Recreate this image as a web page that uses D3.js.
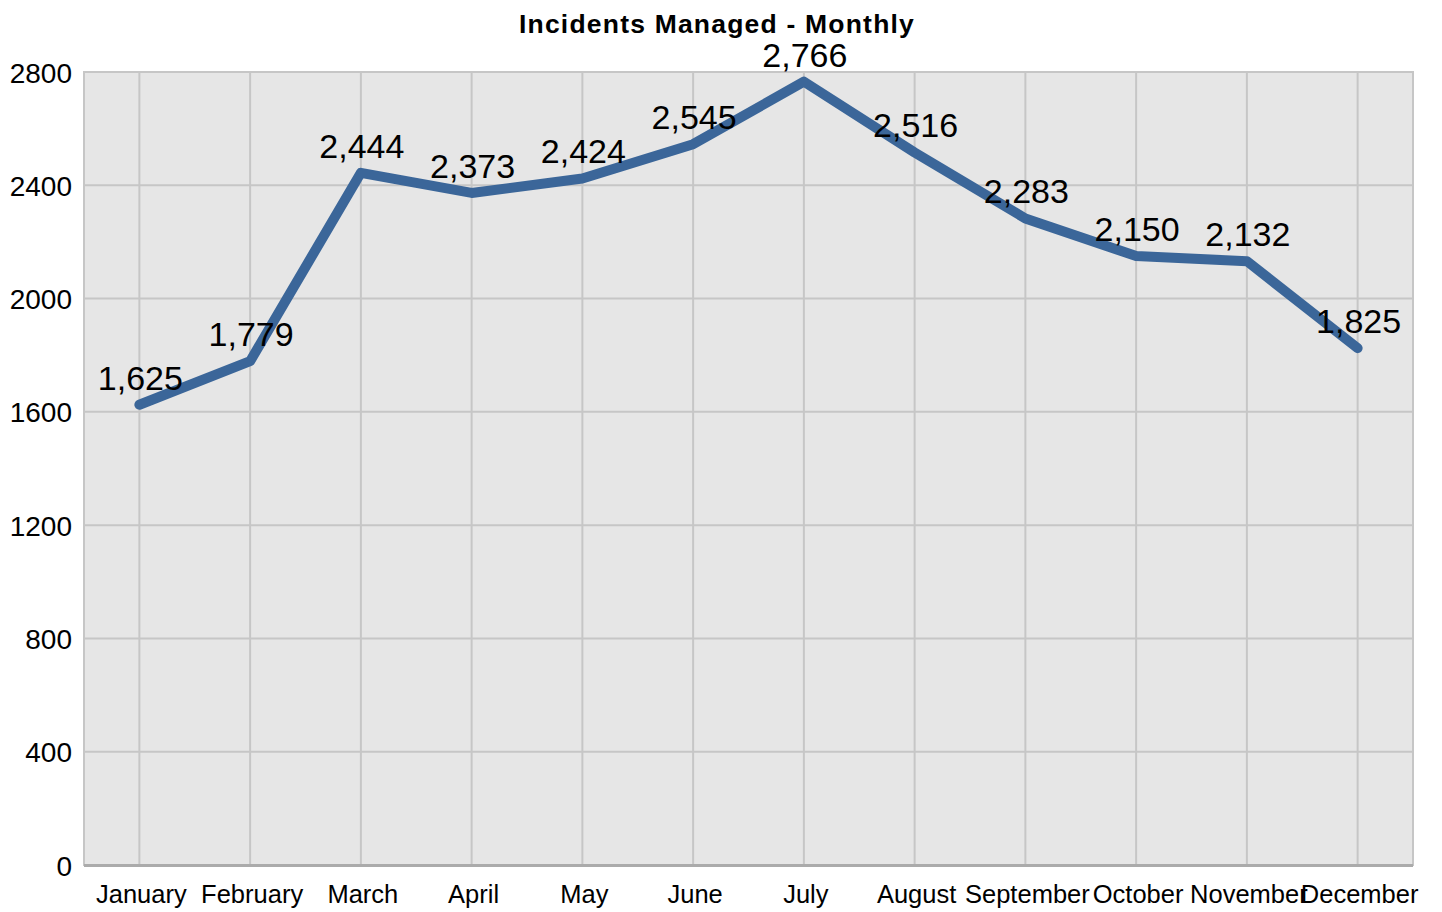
<!DOCTYPE html>
<html>
<head>
<meta charset="utf-8">
<script src="https://cdn.jsdelivr.net/npm/d3@7"></script>
<style>
  body { margin: 0; background: #fff; }
  svg { display: block; font-family: "Liberation Sans", Arial, sans-serif; }
</style>
</head>
<body>
<svg id="chart" width="1442" height="912"></svg>
<script>
const months = ["January", "February", "March", "April", "May", "June",
                "July", "August", "September", "October", "November", "December"];
const incidents = [1625, 1779, 2444, 2373, 2424, 2545, 2766, 2516, 2283, 2150, 2132, 1825];
const yTicks = [0, 400, 800, 1200, 1600, 2000, 2400, 2800];

const svg = d3.select("#chart");
const plot = { left: 84, right: 1413, top: 72, bottom: 865 };

const x = d3.scaleBand().domain(months).range([plot.left, plot.right]);
const cx = m => x(m) + x.bandwidth() / 2;
const y = d3.scaleLinear().domain([0, 2800]).range([plot.bottom, plot.top]);

// background
svg.append("rect")
    .attr("x", plot.left)
    .attr("y", plot.top)
    .attr("width", plot.right - plot.left)
    .attr("height", plot.bottom - plot.top)
    .attr("fill", "#e6e6e6")
    .attr("stroke", "#c6c6c6")
    .attr("stroke-width", 2);

// horizontal grid
svg.append("g")
    .selectAll("line")
    .data(yTicks)
    .join("line")
    .attr("x1", plot.left)
    .attr("x2", plot.right)
    .attr("y1", d => y(d))
    .attr("y2", d => y(d))
    .attr("stroke", "#c6c6c6")
    .attr("stroke-width", 2);

// vertical grid at category centres
svg.append("g")
    .selectAll("line")
    .data(months)
    .join("line")
    .attr("x1", d => cx(d))
    .attr("x2", d => cx(d))
    .attr("y1", plot.top)
    .attr("y2", plot.bottom)
    .attr("stroke", "#c6c6c6")
    .attr("stroke-width", 2);

// bottom axis line
svg.append("line")
    .attr("x1", plot.left)
    .attr("x2", plot.right)
    .attr("y1", plot.bottom + 0.5)
    .attr("y2", plot.bottom + 0.5)
    .attr("stroke", "#ababab")
    .attr("stroke-width", 3);

// y axis labels
const yAxis = d3.axisLeft(y).tickValues(yTicks).tickFormat(d3.format("d"))
    .tickSize(0).tickPadding(12);
svg.append("g")
    .attr("transform", `translate(${plot.left},0)`)
    .call(yAxis)
    .call(g => g.select(".domain").remove())
    .selectAll("text")
    .attr("font-size", 28)
    .attr("font-family", "Liberation Sans, Arial, sans-serif")
    .attr("fill", "#000")
    .attr("dy", "0.36em");

// x axis labels
svg.append("g")
    .selectAll("text")
    .data(months)
    .join("text")
    .attr("x", d => cx(d) + 2)
    .attr("y", 903)
    .attr("text-anchor", "middle")
    .attr("font-size", 25.5)
    .attr("fill", "#000")
    .text(d => d);

// line
const line = d3.line()
    .x((d, i) => cx(months[i]))
    .y(d => y(d));

svg.append("path")
    .datum(incidents)
    .attr("d", line)
    .attr("fill", "none")
    .attr("stroke", "#3b6699")
    .attr("stroke-width", 10)
    .attr("stroke-linecap", "round")
    .attr("stroke-linejoin", "round");

// value labels
svg.append("g")
    .selectAll("text")
    .data(incidents)
    .join("text")
    .attr("x", (d, i) => cx(months[i]) + 1)
    .attr("y", d => y(d) - 15)
    .attr("text-anchor", "middle")
    .attr("font-size", 34)
    .attr("fill", "#000")
    .text(d => d3.format(",")(d));

// title
svg.append("text")
    .attr("x", 717)
    .attr("y", 33)
    .attr("text-anchor", "middle")
    .attr("font-size", 26.5)
    .attr("font-weight", "bold")
    .attr("letter-spacing", 1.2)
    .attr("fill", "#000")
    .text("Incidents Managed - Monthly");
</script>
</body>
</html>
